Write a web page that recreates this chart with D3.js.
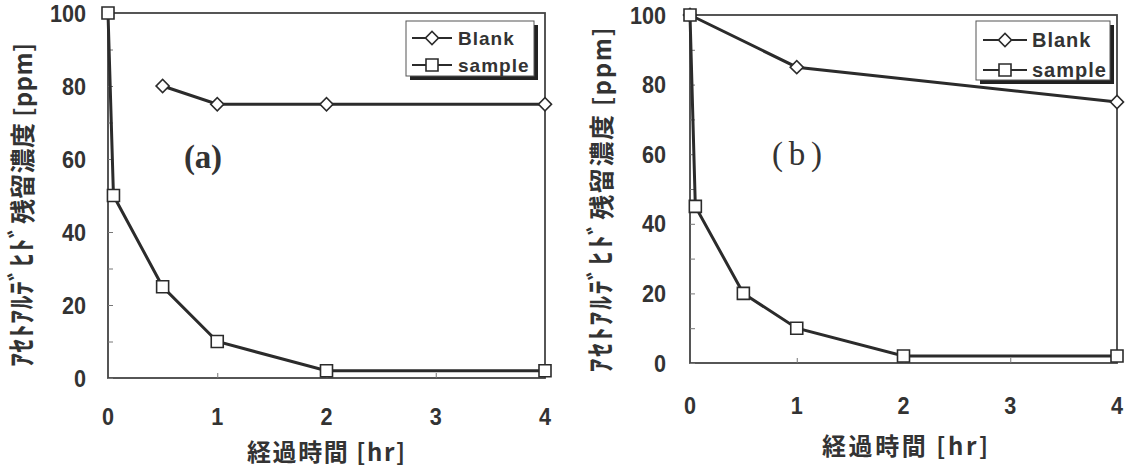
<!DOCTYPE html>
<html>
<head>
<meta charset="utf-8">
<script src="https://cdnjs.cloudflare.com/ajax/libs/d3/7.8.5/d3.min.js"></script>
<style>
  html, body { margin: 0; padding: 0; background: #fff; }
  svg { display: block; }
</style>
</head>
<body>
<svg id="chart" width="1128" height="469"></svg>
<script>
// Elapsed time [hr] and residual acetaldehyde concentration [ppm]
const timeTicks = [0, 1, 2, 3, 4];
const concTicks = [0, 20, 40, 60, 80, 100];
const concMinorTicks = [10, 30, 50, 70, 90];
const seriesNames = ["Blank", "sample"];

// panel (a)
const blankTimeA = [0.5, 1, 2, 4];
const blankConcA = [80, 75, 75, 75];
const sampleTimeA = [0, 0.05, 0.5, 1, 2, 4];
const sampleConcA = [100, 50, 25, 10, 2, 2];

// panel (b)
const blankTimeB = [0, 1, 4];
const blankConcB = [100, 85, 75];
const sampleTimeB = [0, 0.05, 0.5, 1, 2, 4];
const sampleConcB = [100, 45, 20, 10, 2, 2];

// y title pieces: half-width kana, kanji, unit
const yTitleParts = [
  { s: "ｱｾﾄｱﾙﾃﾞﾋﾄﾞ", fs: 28 },
  { s: "残留濃度 ", fs: 25 },
  { s: "[ppm]", fs: 24 }
];
const xTitle = "経過時間 [hr]";

const ink = "#2b2b2b";
const textInk = "#333";
const svg = d3.select("#chart");

function zip(xs, ys) { return xs.map((x, i) => ({ t: x, c: ys[i] })); }

function panel(cfg) {
  const g = svg.append("g");
  const x = d3.scaleLinear().domain([0, 4]).range([cfg.left, cfg.right]);
  const y = d3.scaleLinear().domain([0, 100]).range([cfg.bottom, cfg.top]);

  // frame
  g.append("rect")
    .attr("x", cfg.left).attr("y", cfg.top)
    .attr("width", cfg.right - cfg.left).attr("height", cfg.bottom - cfg.top)
    .attr("fill", "none").attr("stroke", "#444").attr("stroke-width", 1.8);

  // inner ticks on the left axis
  const yAxis = d3.axisRight(y).tickValues(concTicks.concat(concMinorTicks)).tickSize(5).tickFormat("");
  g.append("g").attr("transform", `translate(${cfg.left},0)`).call(yAxis)
    .call(s => s.select(".domain").remove())
    .call(s => s.selectAll("line").attr("stroke", "#777").attr("stroke-width", 1));

  // inner ticks on the bottom axis
  const xAxis = d3.axisTop(x).tickValues(timeTicks.slice(1, -1)).tickSize(5).tickFormat("");
  g.append("g").attr("transform", `translate(0,${cfg.bottom})`).call(xAxis)
    .call(s => s.select(".domain").remove())
    .call(s => s.selectAll("line").attr("stroke", "#777").attr("stroke-width", 1));

  // y tick labels
  g.append("g").selectAll("text").data(concTicks).join("text")
    .attr("x", cfg.yLabelX).attr("y", d => y(d))
    .attr("dy", "0.36em").attr("text-anchor", "end")
    .attr("font-family", "Liberation Sans, Arial, sans-serif")
    .attr("font-weight", "bold").attr("font-size", 24).attr("fill", textInk)
    .attr("transform", d => `translate(${cfg.yLabelX},${y(d)}) scale(0.9,1) translate(${-cfg.yLabelX},${-y(d)})`)
    .text(d => d);

  // x tick labels
  g.append("g").selectAll("text").data(timeTicks).join("text")
    .attr("x", d => x(d)).attr("y", cfg.xLabelY)
    .attr("dy", "0.36em").attr("text-anchor", "middle")
    .attr("font-family", "Liberation Sans, Arial, sans-serif")
    .attr("font-weight", "bold").attr("font-size", 24).attr("fill", textInk)
    .attr("transform", d => `translate(${x(d)},0) scale(0.9,1) translate(${-x(d)},0)`)
    .text(d => d);

  // axis titles
  const yt = g.append("text")
    .attr("transform", `translate(${cfg.yTitleX},${cfg.yTitleY}) rotate(-90)`)
    .attr("x", 0).attr("y", 9)
    .attr("text-anchor", "middle")
    .attr("font-family", "Noto Sans CJK JP, sans-serif")
    .attr("font-weight", "bold").attr("fill", textInk)
    .attr("textLength", cfg.yTitleLen).attr("lengthAdjust", "spacing");
  yt.selectAll("tspan").data(yTitleParts).join("tspan")
    .attr("font-size", d => d.fs).text(d => d.s);

  g.append("text")
    .attr("x", cfg.xTitleX).attr("y", cfg.xTitleY)
    .attr("text-anchor", "middle").attr("dy", "0.36em")
    .attr("font-family", "Noto Sans CJK JP, sans-serif")
    .attr("font-weight", "bold").attr("font-size", 24).attr("fill", textInk)
    .attr("textLength", cfg.xTitleLen).attr("lengthAdjust", "spacing")
    .text(xTitle);

  // panel tag
  g.append("text")
    .attr("x", cfg.tagX).attr("y", cfg.tagY)
    .attr("text-anchor", "middle")
    .attr("font-family", "Liberation Serif, DejaVu Serif, serif")
    .attr("font-weight", cfg.tagWeight).attr("font-size", 33).attr("fill", textInk)
    .attr("textLength", cfg.tagLen).attr("lengthAdjust", "spacing")
    .text(cfg.tag);

  const line = d3.line().x(d => x(d.t)).y(d => y(d.c));
  const blank = zip(cfg.blankTime, cfg.blankConc);
  const sample = zip(cfg.sampleTime, cfg.sampleConc);

  g.append("path").datum(blank).attr("d", line)
    .attr("fill", "none").attr("stroke", ink).attr("stroke-width", 3);
  g.append("path").datum(sample).attr("d", line)
    .attr("fill", "none").attr("stroke", ink).attr("stroke-width", 3);

  const diamond = d3.symbol().type(d3.symbolSquare).size(85);
  g.append("g").selectAll("path").data(blank).join("path")
    .attr("transform", d => `translate(${x(d.t)},${y(d.c)}) rotate(45)`)
    .attr("d", diamond)
    .attr("fill", "#fff").attr("stroke", ink).attr("stroke-width", 1.6);

  const square = d3.symbol().type(d3.symbolSquare).size(144);
  g.append("g").selectAll("path").data(sample).join("path")
    .attr("transform", d => `translate(${x(d.t)},${y(d.c)})`)
    .attr("d", square)
    .attr("fill", "#fff").attr("stroke", ink).attr("stroke-width", 1.6);

  // legend with drop shadow
  const L = cfg.legend;
  g.append("rect").attr("x", L.x + 4).attr("y", L.y + 4)
    .attr("width", L.w).attr("height", L.h).attr("fill", "#222");
  g.append("rect").attr("x", L.x).attr("y", L.y)
    .attr("width", L.w).attr("height", L.h)
    .attr("fill", "#fff").attr("stroke", "#555").attr("stroke-width", 1);

  seriesNames.forEach((name, i) => {
    const ly = L.y + L.rows[i];
    g.append("line").attr("x1", L.lx1).attr("x2", L.lx2).attr("y1", ly).attr("y2", ly)
      .attr("stroke", ink).attr("stroke-width", 2);
    const mx = (L.lx1 + L.lx2) / 2;
    if (i === 0) {
      g.append("path").attr("d", diamond)
        .attr("transform", `translate(${mx},${ly}) rotate(45)`)
        .attr("fill", "#fff").attr("stroke", ink).attr("stroke-width", 1.6);
    } else {
      g.append("path").attr("d", square)
        .attr("transform", `translate(${mx},${ly})`)
        .attr("fill", "#fff").attr("stroke", ink).attr("stroke-width", 1.6);
    }
    g.append("text").attr("x", L.tx).attr("y", ly).attr("dy", "0.36em")
      .attr("font-family", "Liberation Sans, Arial, sans-serif")
      .attr("font-weight", "bold").attr("font-size", L.fs).attr("fill", textInk)
      .attr("letter-spacing", 1)
      .text(name);
  });
}

panel({
  left: 108, right: 545, top: 13, bottom: 378,
  yLabelX: 86, xLabelY: 416,
  yTitleX: 23, yTitleY: 205, yTitleLen: 324,
  xTitleX: 326, xTitleY: 452, xTitleLen: 158,
  tag: "(a)", tagX: 203, tagY: 168, tagLen: 38, tagWeight: "bold",
  blankTime: blankTimeA, blankConc: blankConcA,
  sampleTime: sampleTimeA, sampleConc: sampleConcA,
  legend: { x: 406, y: 21, w: 128, h: 55, rows: [17, 44], lx1: 412, lx2: 452, tx: 458, fs: 19 }
});

panel({
  left: 690, right: 1117, top: 15, bottom: 363,
  yLabelX: 666, xLabelY: 405,
  yTitleX: 602, yTitleY: 200, yTitleLen: 345,
  xTitleX: 905, xTitleY: 446, xTitleLen: 166,
  tag: "( b )", tagX: 797, tagY: 165, tagLen: 50, tagWeight: "normal",
  blankTime: blankTimeB, blankConc: blankConcB,
  sampleTime: sampleTimeB, sampleConc: sampleConcB,
  legend: { x: 976, y: 21, w: 134, h: 59, rows: [19, 49], lx1: 983, lx2: 1027, tx: 1032, fs: 20 }
});
</script>
</body>
</html>
